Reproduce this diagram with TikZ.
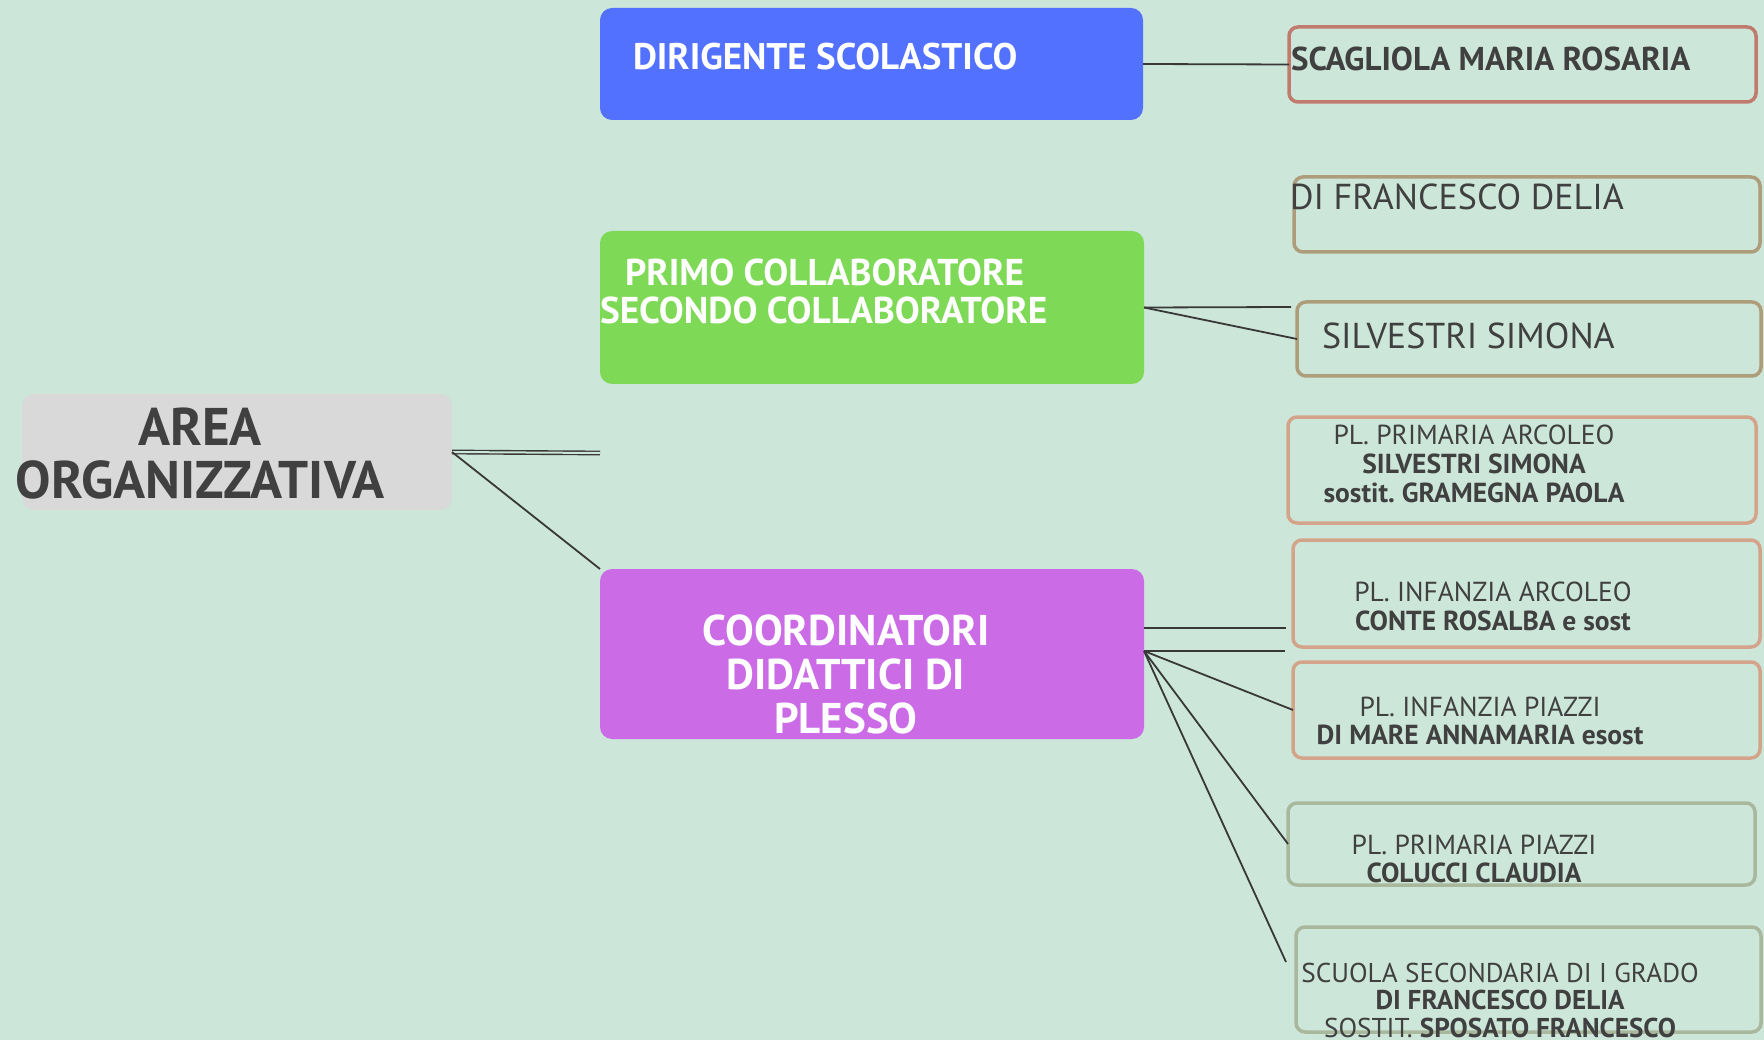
\documentclass[tikz,border=0pt]{standalone}
\usepackage{fontspec}
\setmainfont{PT Sans}
\frenchspacing
\definecolor{bg}{HTML}{CCE6D9}
\definecolor{ink}{HTML}{404040}
\definecolor{wire}{HTML}{383838}
\definecolor{hubgrey}{HTML}{D9D9D9}
\definecolor{hubblue}{HTML}{5271FF}
\definecolor{hubgreen}{HTML}{7ED957}
\definecolor{hubviolet}{HTML}{CB6CE6}
\definecolor{edgerose}{HTML}{C07A6E}
\definecolor{edgetan}{HTML}{AD9D7B}
\definecolor{edgesalmon}{HTML}{D4A48A}
\definecolor{edgesage}{HTML}{A9B89C}
% a box given by its top-left and bottom-right corners (in px)
\newcommand\boxnode[6]{%
  \node[#1, minimum width={#5-#3}, minimum height={#6-#4}] (#2) at (#3,#4) {};}
% centred lines whose first baseline is the node's base
\newcommand\lines[1]{\begin{tabular}[t]{@{}c@{}}#1\end{tabular}}
\begin{document}
\begin{tikzpicture}[x=1pt,y=-1pt,
  every node/.style={inner sep=0pt, outer sep=0pt},
  hub/.style={rounded corners=12pt, anchor=north west},
  leaf/.style={draw, line width=3.5pt, rounded corners=9pt, anchor=north west},
  wirestyle/.style={draw=wire, line width=1.8pt},
  hubtext/.style={text=white, font=\bfseries},
  leaftext/.style={text=ink},
  small/.style={leaftext, anchor=base, font=\fontsize{27.5}{29}\selectfont}]
\useasboundingbox (0,0) rectangle (1764,1040);
\fill[bg] (0,0) rectangle (1764,1040);

% central topic and main branches
\boxnode{hub, fill=hubgrey}{area}{22}{394}{452}{510}
\boxnode{hub, fill=hubblue}{dir}{600}{8}{1143}{120}
\boxnode{hub, fill=hubgreen}{collab}{600}{231}{1144}{384}
\boxnode{hub, fill=hubviolet}{coord}{600}{569}{1144}{739}

% leaves
\boxnode{leaf, draw=edgerose}{scag}{1289}{27}{1756}{102}
\boxnode{leaf, draw=edgetan}{difr}{1294}{177}{1760}{252}
\boxnode{leaf, draw=edgetan}{silv}{1297}{302}{1761}{376}
\boxnode{leaf, draw=edgesalmon}{primarc}{1288}{417}{1756}{523}
\boxnode{leaf, draw=edgesalmon}{infarc}{1293}{540}{1760}{647}
\boxnode{leaf, draw=edgesalmon}{infpia}{1293}{662}{1760}{758}
\boxnode{leaf, draw=edgesage}{primpia}{1288}{803}{1755}{885}
\boxnode{leaf, draw=edgesage}{secgrado}{1296}{927}{1761}{1032}

% texts of the main boxes
\node[leaftext, font=\fontsize{53}{53}\selectfont\bfseries, anchor=base] (areatxt) at (200,445)
  {\lines{AREA\\ORGANIZZATIVA}};
\node[hubtext, font=\fontsize{37}{38}\selectfont\bfseries, anchor=base west] (dirtxt) at (633,70)
  {DIRIGENTE SCOLASTICO};
\node[hubtext, font=\fontsize{37.3}{38}\selectfont\bfseries, anchor=base west] (collabtxtA) at (625,286)
  {PRIMO COLLABORATORE};
\node[hubtext, font=\fontsize{37.3}{38}\selectfont\bfseries, anchor=base west] (collabtxtB) at (600,324)
  {SECONDO COLLABORATORE};
\node[hubtext, font=\fontsize{43}{44}\selectfont\bfseries, anchor=base] (coordtxt) at (846,645)
  {\lines{COORDINATORI\\DIDATTICI DI\\PLESSO}};

% texts of the leaves
\node[leaftext, font=\fontsize{33}{34}\selectfont\bfseries, anchor=base west] (scagtxt) at (1291,71)
  {SCAGLIOLA MARIA ROSARIA};
\node[leaftext, font=\fontsize{36}{36}\selectfont, anchor=base west] (difrtxt) at (1290,210)
  {DI FRANCESCO DELIA};
\node[leaftext, font=\fontsize{36}{36}\selectfont, anchor=base west] (silvtxt) at (1322,349)
  {SILVESTRI SIMONA};
\node[small] (primarctxt) at (1474,444)
  {\lines{PL. PRIMARIA ARCOLEO\\\textbf{SILVESTRI SIMONA}\\\textbf{sostit. GRAMEGNA PAOLA}}};
\node[small] (infarctxt) at (1493,601)
  {\lines{PL. INFANZIA ARCOLEO\\\textbf{CONTE ROSALBA e sost}}};
\node[small, font=\fontsize{27.5}{28}\selectfont] (infpiatxt) at (1480,716)
  {\lines{PL. INFANZIA PIAZZI\\\textbf{DI MARE ANNAMARIA esost}}};
\node[small, font=\fontsize{27.5}{28}\selectfont] (primpiatxt) at (1474,854)
  {\lines{PL. PRIMARIA PIAZZI\\\textbf{COLUCCI CLAUDIA}}};
\node[small, font=\fontsize{27.2}{27}\selectfont] (secgradotxt) at (1500,982)
  {\lines{SCUOLA SECONDARIA DI I GRADO\\\textbf{DI FRANCESCO DELIA}\\SOSTIT. \textbf{SPOSATO FRANCESCO}}};

% free ends of the connectors
\coordinate (areaend) at (600,453);
\coordinate (collabend) at (1291,307);
\coordinate (rowA) at (1286,628);
\coordinate (rowB) at (1285,651);
\coordinate (rowC) at (1286,962);
\coordinate (fan) at (1144,651);

% connectors
\draw[wirestyle, double=bg, double distance=2pt, line width=1.4pt] (area.east) -- (areaend);
\draw[wirestyle] (area.east) -- (coord.north west);
\draw[wirestyle] (dir.east) -- (scag.west);
\draw[wirestyle] (collab.east) -- (collabend);
\draw[wirestyle] (collab.east) -- (silv.west);
\draw[wirestyle] (coord.east |- rowA) -- (rowA);
\draw[wirestyle] (fan) -- (rowB);
\draw[wirestyle] (fan) -- (infpia.west);
\draw[wirestyle] (fan) -- (primpia.west);
\draw[wirestyle] (fan) -- (rowC);
\end{tikzpicture}
\end{document}
